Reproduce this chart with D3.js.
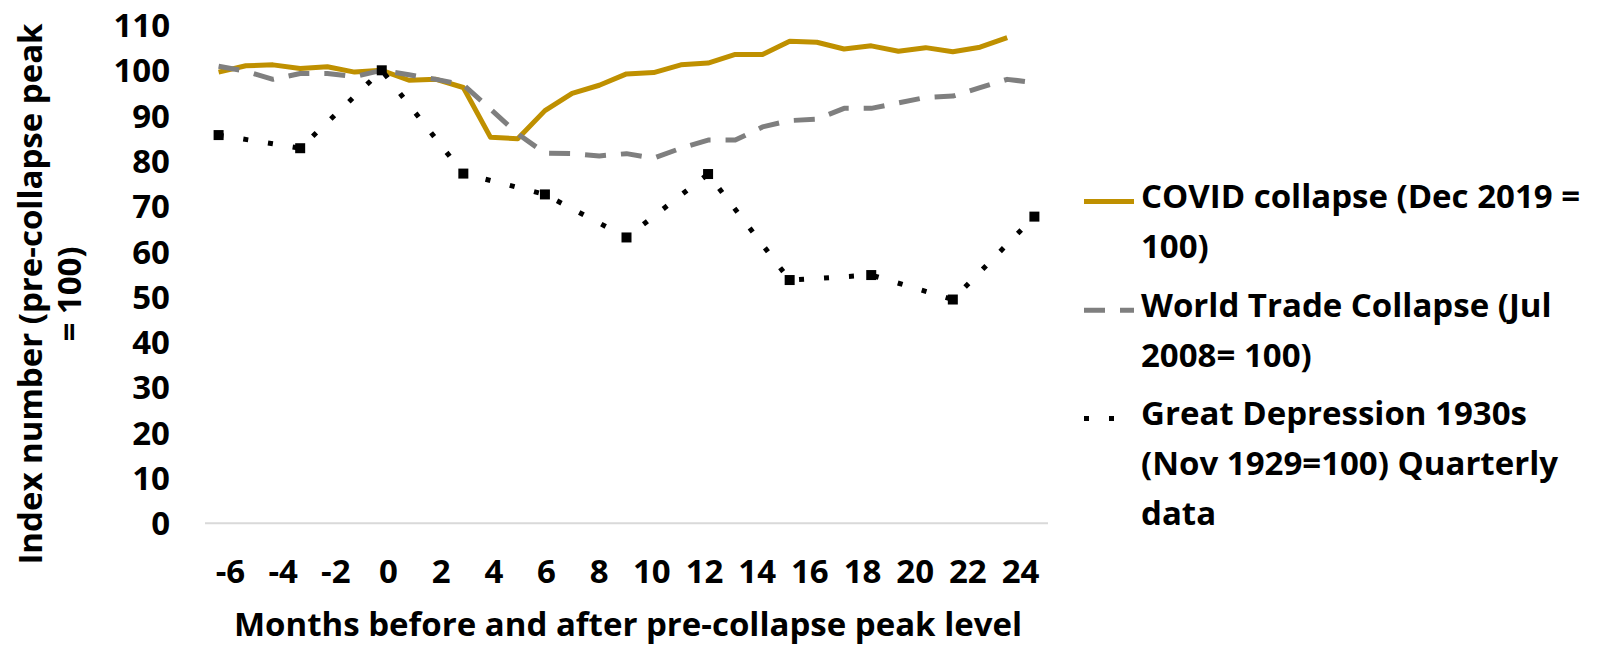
<!DOCTYPE html>
<html>
<head>
<meta charset="utf-8">
<script src="https://cdn.jsdelivr.net/npm/d3@7"></script>
<style>
  html, body { margin: 0; padding: 0; background: #ffffff; }
  svg text { font-family: "Open Sans", Lato, sans-serif; font-weight: 700; font-size: 33px; fill: #000; }
</style>
</head>
<body>
<svg id="chart" width="1600" height="647"></svg>
<script>
// Months relative to the pre-collapse peak
const months = [-6, -5, -4, -3, -2, -1, 0, 1, 2, 3, 4, 5, 6, 7, 8, 9, 10, 11, 12,
                13, 14, 15, 16, 17, 18, 19, 20, 21, 22, 23, 24];
const xTickLabels = [-6, -4, -2, 0, 2, 4, 6, 8, 10, 12, 14, 16, 18, 20, 22, 24];
const yTickLabels = [0, 10, 20, 30, 40, 50, 60, 70, 80, 90, 100, 110];

// COVID collapse, Dec 2019 = 100 (monthly)
const covid = [99.6, 101.0, 101.2, 100.4, 100.8, 99.6, 100, 97.8, 98.0, 96.2, 85.2, 84.9,
               91.1, 94.9, 96.7, 99.2, 99.5, 101.2, 101.6, 103.5, 103.5, 106.4, 106.2,
               104.7, 105.4, 104.2, 105.0, 104.1, 105.1, 107.2, null];

// World trade collapse, Jul 2008 = 100 (monthly)
const worldTrade = [100.9, 99.8, 98.0, 99.3, 99.3, 98.6, 100, 99.0, 98.0, 96.8, 91.4, 86.0,
                    81.7, 81.6, 81.1, 81.6, 80.6, 82.8, 84.6, 84.6, 87.5, 88.9, 89.2,
                    91.6, 91.6, 92.8, 94.0, 94.3, 96.2, 98.0, 97.3];

// Great Depression, Nov 1929 = 100 (quarterly)
const greatDepression = [85.7, null, null, 82.8, null, null, 100, null, null, 77.2, null, null,
                         72.6, null, null, 63.1, null, null, 77.1, null, null, 53.7, null, null,
                         54.8, null, null, 49.4, null, null, 67.7];

const seriesNames = [
  ["COVID collapse (Dec 2019 =", "100)"],
  ["World Trade Collapse (Jul", "2008= 100)"],
  ["Great Depression 1930s", "(Nov 1929=100) Quarterly", "data"]
];
const yTitleLines = ["Index number (pre-collapse peak", "= 100)"];
const xTitle = "Months before and after pre-collapse peak level";

const GOLD = "#BF9000", GREY = "#7F7F7F", BLACK = "#000000";

const svg = d3.select("#chart");

const x = d3.scalePoint().domain(months).range([205, 1048]).padding(0.5);
const y = d3.scaleLinear().domain([0, 110]).range([523.3, 25]);
// tick labels sit on a slightly narrower band than the plotted points
const xLabel = d3.scalePoint().domain(xTickLabels).range([230, 1020]);

// Value axis (labels only)
svg.append("g")
  .attr("transform", "translate(170,0)")
  .call(d3.axisLeft(y).tickValues(yTickLabels).tickSize(0).tickPadding(0))
  .call(g => g.select(".domain").remove())
  .selectAll("text").attr("dy", "0.35em");

// Category axis: baseline across the plot, labels below
svg.append("line")
  .attr("x1", x.range()[0]).attr("x2", x.range()[1])
  .attr("y1", y(0)).attr("y2", y(0))
  .attr("stroke", "#D9D9D9").attr("stroke-width", 2);
svg.append("g")
  .attr("transform", `translate(0,${y(0)})`)
  .call(d3.axisBottom(xLabel).tickSize(0).tickSizeOuter(0).tickPadding(36))
  .call(g => g.select(".domain").remove());

const toPoints = vals => months.map((m, i) => ({ m, v: vals[i] })).filter(d => d.v != null);
const line = d3.line().x(d => x(d.m)).y(d => y(d.v));

svg.append("path")
  .datum(toPoints(covid))
  .attr("d", line)
  .attr("fill", "none").attr("stroke", GOLD).attr("stroke-width", 5)
  .attr("stroke-linejoin", "round");

svg.append("path")
  .datum(toPoints(worldTrade))
  .attr("d", line)
  .attr("fill", "none").attr("stroke", GREY).attr("stroke-width", 5)
  .attr("stroke-dasharray", "21 15").attr("stroke-linejoin", "round");

const gdPoints = toPoints(greatDepression);
svg.append("path")
  .datum(gdPoints)
  .attr("d", line)
  .attr("fill", "none").attr("stroke", BLACK).attr("stroke-width", 5)
  .attr("stroke-dasharray", "5 20");

svg.append("g").selectAll("rect")
  .data(gdPoints).join("rect")
  .attr("x", d => x(d.m) - 5).attr("y", d => y(d.v) - 5)
  .attr("width", 10).attr("height", 10).attr("fill", BLACK);

// Legend
const legendStyles = [
  { color: GOLD, dash: null, base: 208 },
  { color: GREY, dash: "21 15", base: 316.7 },
  { color: BLACK, dash: "5 20", base: 425 }
];
const legend = svg.append("g");
legendStyles.forEach((s, i) => {
  legend.append("line")
    .attr("x1", 1084).attr("x2", 1134)
    .attr("y1", s.base - 6.5).attr("y2", s.base - 6.5)
    .attr("stroke", s.color).attr("stroke-width", 5)
    .attr("stroke-dasharray", s.dash);
  seriesNames[i].forEach((t, j) => {
    legend.append("text")
      .attr("x", 1141).attr("y", s.base + j * 50)
      .text(t);
  });
});

// Axis titles
yTitleLines.forEach((t, i) => {
  svg.append("text")
    .attr("transform", `translate(${42 + i * 39},294) rotate(-90)`)
    .attr("text-anchor", "middle")
    .text(t);
});
svg.append("text")
  .attr("x", 628).attr("y", 636)
  .attr("text-anchor", "middle")
  .text(xTitle);
</script>
</body>
</html>
